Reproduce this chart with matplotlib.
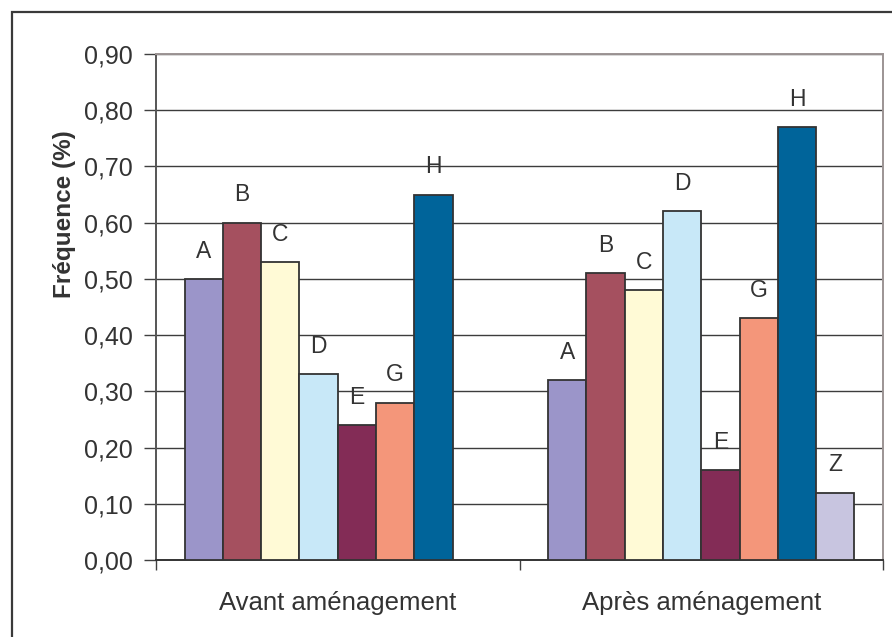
import numpy as np
import matplotlib
matplotlib.use("Agg")
import matplotlib.pyplot as plt
from matplotlib.patches import Rectangle
from matplotlib.ticker import FuncFormatter, FixedLocator

plt.rcParams['font.family'] = ['Liberation Sans', 'DejaVu Sans']

# Data
categories = ["Avant aménagement", "Après aménagement"]
series = ["A", "B", "C", "D", "E", "G", "H", "Z"]
avant = [0.50, 0.60, 0.53, 0.33, 0.24, 0.28, 0.65, np.nan]
apres = [0.32, 0.51, 0.48, 0.62, 0.16, 0.43, 0.77, 0.12]
colors = ["#9b95c9", "#a5505f", "#fffad6", "#c8e8f8",
          "#832c56", "#f4967a", "#00649a", "#c8c5e0"]
y_ticks = [0.0, 0.1, 0.2, 0.3, 0.4, 0.5, 0.6, 0.7, 0.8, 0.9]

values = np.array([avant, apres])  # shape (category, series)

W, H = 892, 637
fig = plt.figure(figsize=(W / 100, H / 100), dpi=100)
fig.patch.set_facecolor("white")

# outer chart frame
fig.patches.append(Rectangle((12 / W, -0.1), 1.2, 1 - 12 / H + 0.1,
                             transform=fig.transFigure, fill=False,
                             edgecolor="#3a3a3a", linewidth=1.6))

ax = fig.add_axes([156 / W, 1 - 560 / H, (883 - 156) / W, (560 - 54) / H])

n = len(series)
width = 1 / (n + 1.5)
x = np.arange(len(categories))

for i, name in enumerate(series):
    offs = (i - (n - 1) / 2) * width
    for j in range(len(categories)):
        v = values[j, i]
        if np.isnan(v):
            continue
        ax.bar(x[j] + offs, v, width=width, color=colors[i],
               edgecolor="#333333", linewidth=1.3, zorder=3)
        ax.annotate(name, (x[j] + offs, v), xytext=(0, 20),
                    textcoords="offset points", ha="center", va="center",
                    fontsize=16.5, color="#333333", zorder=4)

ax.set_xlim(-0.5, 1.5)
ax.set_ylim(0, 0.9)

ax.yaxis.set_major_locator(FixedLocator(y_ticks))
ax.yaxis.set_major_formatter(FuncFormatter(lambda v, p: f"{v:.2f}".replace(".", ",")))
ax.grid(axis="y", color="#3c3c3c", linewidth=1.0, zorder=1)

ax.set_xticks(x)
ax.set_xticklabels(categories)
ax.xaxis.set_minor_locator(FixedLocator([-0.5, 0.5, 1.5]))
ax.tick_params(axis="x", which="major", length=0, pad=22,
               labelsize=18.5, labelcolor="#333333")
ax.tick_params(axis="x", which="minor", length=7, width=1, color="#404040")
ax.tick_params(axis="y", length=9, width=1, color="#404040", pad=8,
               labelsize=18, labelcolor="#333333")

for side in ("top", "right"):
    ax.spines[side].set_color("#9c9494")
    ax.spines[side].set_linewidth(1.4)
ax.spines["left"].set_color("#555555")
ax.spines["left"].set_linewidth(1.4)
ax.spines["bottom"].set_color("#333333")
ax.spines["bottom"].set_linewidth(1.4)

fig.text(64 / W, 1 - 214 / H, "Fréquence (%)", rotation=90,
         ha="center", va="center", fontsize=17.5, fontweight="bold",
         color="#333333")

fig.savefig("out.png", dpi=100)
